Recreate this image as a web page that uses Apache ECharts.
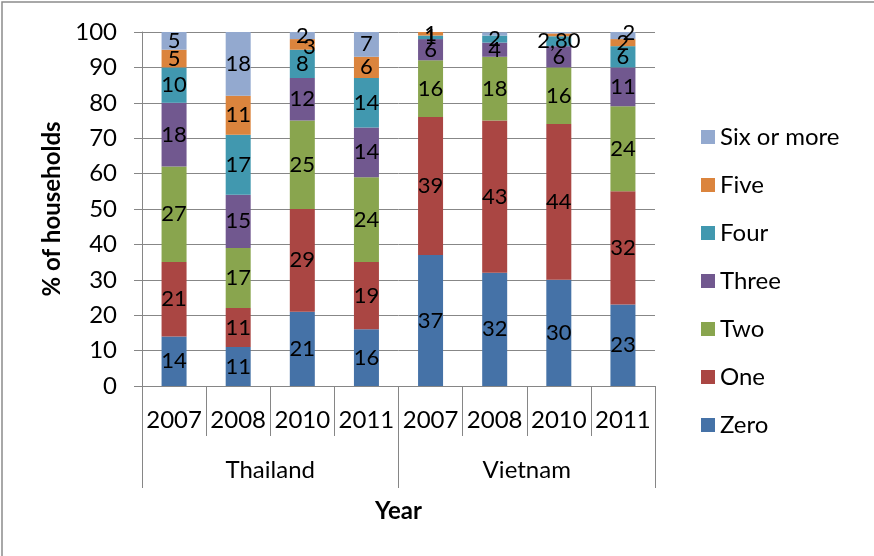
<!DOCTYPE html>
<html>
<head>
<meta charset="utf-8">
<script src="https://cdn.jsdelivr.net/npm/echarts@6/dist/echarts.min.js"></script>
<style>html,body{margin:0;padding:0;background:#fff}#c{width:874px;height:556px}</style>
</head>
<body>
<div id="c"></div>
<script>
const years = ['2007','2008','2010','2011','2007','2008','2010','2011'];
const countries = ['Thailand','Vietnam'];
const yTicks = [0,10,20,30,40,50,60,70,80,90,100];
const zero  = [14, 11, 21, 16, 37, 32, 30, 23];
const one   = [21, 11, 29, 19, 39, 43, 44, 32];
const two   = [27, 17, 25, 24, 16, 18, 16, 24];
const three = [18, 15, 12, 14,  6,  4,  6, 11];
const four  = [10, 17,  8, 14,  1,  2, 2.8, 6];
const five  = [ 5, 11,  3,  6,  1,  0, 0.8, 2];
const six   = [ 5, 18,  2,  7,  0, 0.9, 0.4, 2];
const seriesNames = ['Zero','One','Two','Three','Four','Five','Six or more'];
const seriesData = [zero, one, two, three, four, five, six];
const colors = ['#4572A7','#AA4643','#89A54E','#71588F','#4198AF','#DB843D','#93A9CF'];

const FONT = 'Lato';
const FS = 24;
const fmt = p => {
  const v = p.value;
  if (v < 1) return '';
  if (Number.isInteger(v)) return String(v);
  return v.toFixed(2).replace('.', ',');
};
// small label nudges for crowded segments (series index -> category index -> offset)
const labelNudge = { 5: { 2: [7, 3] }, 6: { 7: [6, -3] } };

const chart = echarts.init(document.getElementById('c'));
chart.setOption({
  animation: false,
  textStyle: { fontFamily: FONT },
  color: colors,
  graphic: [{
    type: 'rect', z: -10,
    shape: { x: 2, y: 2, width: 900, height: 600 },
    style: { fill: 'none', stroke: '#8c8c8c', lineWidth: 1.5 }
  }],
  grid: { left: 142, right: 219, top: 32, bottom: 170 },
  legend: {
    orient: 'vertical',
    left: 696, top: 120,
    itemWidth: 14, itemHeight: 14,
    itemGap: 24,
    icon: 'rect',
    data: seriesNames.slice().reverse(),
    textStyle: { fontSize: FS, color: '#000', fontFamily: FONT }
  },
  xAxis: [{
    type: 'category',
    data: years,
    axisLine: { lineStyle: { color: '#868686', width: 1 } },
    axisTick: { show: true, alignWithLabel: false, length: 50, lineStyle: { color: '#868686' } },
    axisLabel: { fontSize: FS, color: '#000', margin: 22, fontFamily: FONT, interval: 0 }
  }, {
    type: 'category',
    data: countries,
    position: 'bottom',
    offset: 50,
    axisLine: { show: false },
    axisTick: { show: true, alignWithLabel: false, length: 52, lineStyle: { color: '#868686' } },
    axisLabel: { fontSize: FS, color: '#000', margin: 22, fontFamily: FONT },
    name: 'Year',
    nameLocation: 'middle',
    nameGap: 63,
    nameTextStyle: { fontSize: FS, fontWeight: 'bold', color: '#000', fontFamily: FONT }
  }],
  yAxis: {
    type: 'value',
    min: yTicks[0], max: yTicks[yTicks.length - 1], interval: 10,
    axisLine: { show: true, lineStyle: { color: '#868686' } },
    axisTick: { show: true, length: 8, lineStyle: { color: '#868686' } },
    splitLine: { lineStyle: { color: '#878787', width: 1 } },
    axisLabel: { fontSize: FS, color: '#000', margin: 25, fontFamily: FONT },
    name: '% of households',
    nameLocation: 'middle',
    nameGap: 76,
    nameTextStyle: { fontSize: FS, fontWeight: 'bold', color: '#000', fontFamily: FONT }
  },
  series: seriesNames.map((n, i) => ({
    name: n,
    type: 'bar',
    stack: 'total',
    xAxisIndex: 0,
    barWidth: 25,
    data: seriesData[i].map((v, j) => {
      const off = labelNudge[i] && labelNudge[i][j];
      return off ? { value: v, label: { offset: off } } : v;
    }),
    itemStyle: { color: colors[i] },
    label: {
      show: true, position: 'inside', formatter: fmt,
      fontSize: 22, color: '#000', fontFamily: FONT
    }
  }))
});
</script>
</body>
</html>
